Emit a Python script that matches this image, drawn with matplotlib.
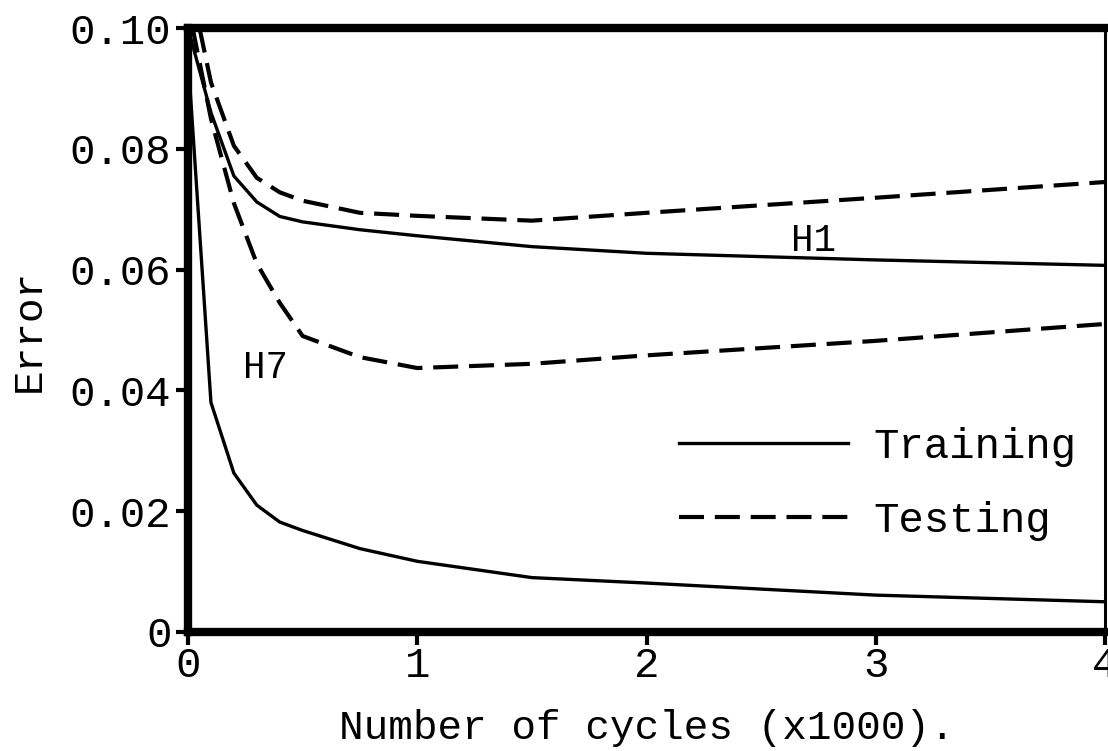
import matplotlib
matplotlib.use('Agg')
import matplotlib.pyplot as plt

# cycles (x1000)
x_h1_train = [0, 0.1, 0.2, 0.3, 0.4, 0.5, 0.75, 1.0, 1.5, 2.0, 3.0, 4.0]
y_h1_train = [0.100, 0.086, 0.0755, 0.0712, 0.0688, 0.0679, 0.0666, 0.0656, 0.0638, 0.0627, 0.0616, 0.0607]

x_h1_test = [0.05, 0.1, 0.2, 0.3, 0.4, 0.5, 0.75, 1.0, 1.5, 2.0, 3.0, 4.0]
y_h1_test = [0.100, 0.091, 0.0805, 0.0752, 0.0728, 0.0714, 0.0694, 0.0689, 0.0681, 0.0694, 0.0719, 0.0745]

x_h7_test = [0.02, 0.1, 0.2, 0.3, 0.4, 0.5, 0.75, 1.0, 1.5, 2.0, 3.0, 4.0]
y_h7_test = [0.100, 0.085, 0.071, 0.061, 0.0545, 0.049, 0.0455, 0.0437, 0.0444, 0.0458, 0.0482, 0.0510]

x_h7_train = [0, 0.1, 0.2, 0.3, 0.4, 0.5, 0.75, 1.0, 1.5, 2.0, 3.0, 4.0]
y_h7_train = [0.095, 0.038, 0.0263, 0.021, 0.0182, 0.0168, 0.0138, 0.0117, 0.0090, 0.0081, 0.0061, 0.0050]

xticks = [0, 1, 2, 3, 4]
yticks = [0, 0.02, 0.04, 0.06, 0.08, 0.10]
ytick_labels = ['0', '0.02', '0.04', '0.06', '0.08', '0.10']

plt.rcParams['font.family'] = ['Liberation Mono', 'DejaVu Sans Mono']

fig = plt.figure(figsize=(11.08, 7.51), dpi=100)
ax = fig.add_axes([0.1697, 0.1585, 0.8276, 0.8042])

dash = (0, (6, 2.6))
ax.plot(x_h1_train, y_h1_train, color='black', lw=2.4, label='Training')
ax.plot(x_h1_test, y_h1_test, color='black', lw=3.0, linestyle=dash, label='Testing')
ax.plot(x_h7_test, y_h7_test, color='black', lw=3.0, linestyle=dash)
ax.plot(x_h7_train, y_h7_train, color='black', lw=2.4)

ax.text(2.73, 0.0647, 'H1', fontsize=27, ha='center', va='center')
ax.text(0.34, 0.0437, 'H7', fontsize=27, ha='center', va='center')

ax.set_xlim(0, 4)
ax.set_ylim(0, 0.10)
ax.set_xticks(xticks)
ax.set_yticks(yticks)
ax.set_yticklabels(ytick_labels)
ax.tick_params(axis='both', labelsize=30.5, width=3, length=9, direction='out', pad=3)
ax.tick_params(axis='x', pad=1)

for side in ['left', 'bottom', 'top']:
    ax.spines[side].set_linewidth(6)
ax.spines['right'].set_linewidth(2.2)

ax.set_xlabel('Number of cycles (x1000).', fontsize=29.5, labelpad=17)
ax.set_ylabel('Error', fontsize=29.5, labelpad=16)

ax.legend(loc='upper left', bbox_to_anchor=(0.535, 0.34), frameon=False,
          fontsize=30.5, handlelength=4.0, handletextpad=0.6, labelspacing=0.8,
          borderpad=0, borderaxespad=0)

fig.savefig('out.png', dpi=100)
